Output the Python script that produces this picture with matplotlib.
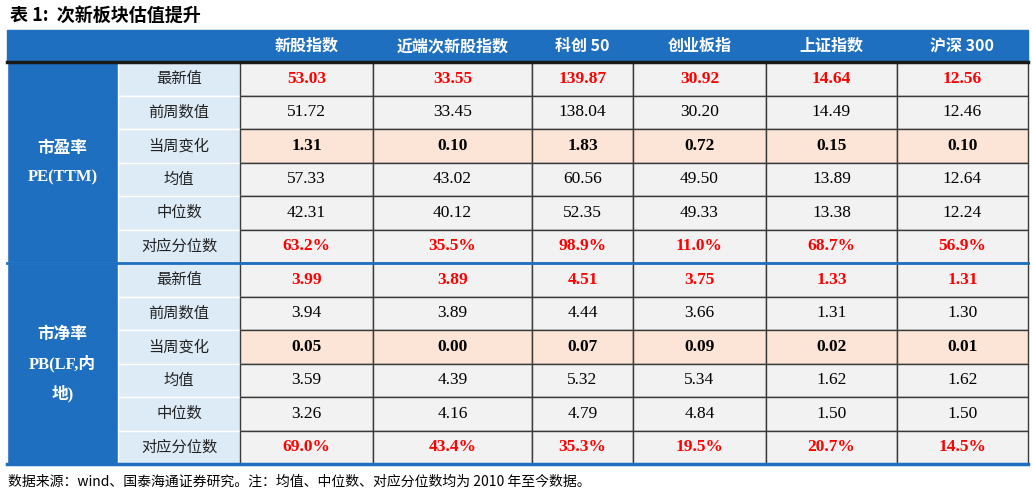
import matplotlib
matplotlib.use("Agg")
import matplotlib.pyplot as plt
from matplotlib.patches import Rectangle

title = "表 1:  次新板块估值提升"
columns = ["新股指数", "近端次新股指数", "科创 50", "创业板指", "上证指数", "沪深 300"]
row_labels = ["最新值", "前周数值", "当周变化", "均值", "中位数", "对应分位数"]
groups = ["市盈率\nPE(TTM)", "市净率\nPB(LF,内\n地)"]
pe_values = [
    ["53.03", "33.55", "139.87", "30.92", "14.64", "12.56"],
    ["51.72", "33.45", "138.04", "30.20", "14.49", "12.46"],
    ["1.31", "0.10", "1.83", "0.72", "0.15", "0.10"],
    ["57.33", "43.02", "60.56", "49.50", "13.89", "12.64"],
    ["42.31", "40.12", "52.35", "49.33", "13.38", "12.24"],
    ["63.2%", "35.5%", "98.9%", "11.0%", "68.7%", "56.9%"],
]
pb_values = [
    ["3.99", "3.89", "4.51", "3.75", "1.33", "1.31"],
    ["3.94", "3.89", "4.44", "3.66", "1.31", "1.30"],
    ["0.05", "0.00", "0.07", "0.09", "0.02", "0.01"],
    ["3.59", "4.39", "5.32", "5.34", "1.62", "1.62"],
    ["3.26", "4.16", "4.79", "4.84", "1.50", "1.50"],
    ["69.0%", "43.4%", "35.3%", "19.5%", "20.7%", "14.5%"],
]
source = "数据来源：wind、国泰海通证券研究。注：均值、中位数、对应分位数均为 2010 年至今数据。"

CJK = "Noto Sans CJK SC"
SERIF = "Liberation Serif"
BLUE = "#1F6FC0"
LBLUE = "#DDEBF7"
GRAY = "#F2F2F2"
PEACH = "#FCE4D6"

fig = plt.figure(figsize=(10.32, 4.98), dpi=100)
ax = fig.add_axes([0, 0, 1, 1])
ax.set_xlim(0, 1032); ax.set_ylim(498, 0); ax.axis("off")

xb = [7, 118, 240, 373, 532, 633, 766, 897, 1028]
ytop, yh = 30, 62
rh = (464 - 62) / 12

def txt(x, y, s, **kw):
    ax.text(x, y, s, ha="center", va="center", **kw)

ax.text(10, 15, title, fontfamily=CJK, fontweight="bold", fontsize=13, va="center")
ax.add_patch(Rectangle((xb[0], ytop), xb[-1]-xb[0], yh-ytop, color=BLUE, zorder=1))
for i, c in enumerate(columns):
    fam = [CJK]
    txt((xb[i+2]+xb[i+3])/2, (ytop+yh)/2, c, color="white", fontsize=11.5,
        fontweight="bold", fontfamily=[SERIF, CJK] if False else CJK)

all_vals = pe_values + pb_values
for r in range(12):
    y0 = yh + r*rh
    ri = r % 6
    ax.add_patch(Rectangle((xb[1], y0), xb[2]-xb[1], rh, facecolor=LBLUE, edgecolor="white", lw=1, zorder=2))
    txt((xb[1]+xb[2])/2, y0+rh/2, row_labels[ri], fontfamily=CJK, fontsize=11, color="#222222", zorder=3)
    for c in range(6):
        fc = PEACH if ri == 2 else GRAY
        ax.add_patch(Rectangle((xb[c+2], y0), xb[c+3]-xb[c+2], rh, facecolor=fc, edgecolor="#3a3a3a", lw=1, zorder=2))
        red = ri in (0, 5)
        bold = ri in (0, 2, 5)
        txt((xb[c+2]+xb[c+3])/2, y0+rh/2, all_vals[r][c], fontfamily=SERIF, fontsize=12.5,
            color="#FF0000" if red else "black", fontweight="bold" if bold else "normal", zorder=3)

for g in range(2):
    y0 = yh + g*6*rh
    ax.add_patch(Rectangle((xb[0], y0), xb[1]-xb[0], 6*rh, facecolor=BLUE, edgecolor="white", lw=1, zorder=2))
    lines = groups[g].split("\n")
    n = len(lines)
    for k, ln in enumerate(lines):
        yy = y0 + 3*rh + (k - (n-1)/2) * 30
        fam = CJK if k == 0 else [SERIF, CJK]
        txt((xb[0]+xb[1])/2, yy, ln, color="white", fontsize=12, fontweight="bold",
            fontfamily=fam, zorder=3)

ax.plot([xb[0], xb[-1]], [yh, yh], color="#1a1a1a", lw=2.5, zorder=4)
ax.plot([xb[0], xb[-1]], [yh+6*rh, yh+6*rh], color=BLUE, lw=2, zorder=4)
ax.plot([xb[0], xb[-1]], [464, 464], color=BLUE, lw=2.5, zorder=4)
ax.text(8, 482, source, fontfamily=CJK, fontsize=10, va="center")
fig.savefig("out.png", dpi=100)
